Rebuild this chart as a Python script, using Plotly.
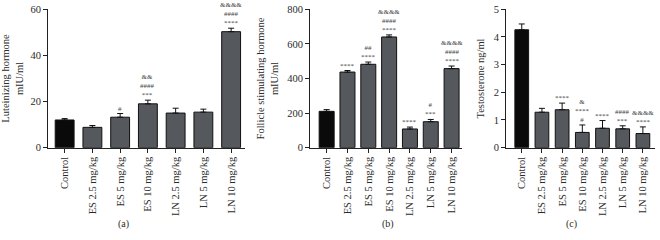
import plotly.graph_objects as go

categories = ["Control", "ES 2.5 mg/kg", "ES 5 mg/kg", "ES 10 mg/kg",
              "LN 2.5 mg/kg", "LN 5 mg/kg", "LN 10 mg/kg"]

lh_values = [12.0, 8.8, 13.2, 19.0, 15.0, 15.4, 50.3]
lh_errors = [0.6, 0.8, 1.6, 1.6, 2.1, 1.3, 1.5]
lh_marks = ["", "", "#", "&&<br>####<br>***", "", "", "&&&&<br>####<br>****"]

fsh_values = [210, 437, 482, 640, 108, 150, 457]
fsh_errors = [10, 9, 13, 12, 11, 13, 15]
fsh_marks = ["", "****", "##<br>****", "&&&&<br>####<br>****", "****", "#<br>***",
             "&&&&<br>####<br>****"]

t_values = [4.26, 1.28, 1.37, 0.55, 0.70, 0.68, 0.51]
t_errors = [0.21, 0.14, 0.24, 0.27, 0.28, 0.11, 0.24]
t_marks = ["", "", "****", "&<br>****<br>#", "****", "####<br>***", "&&&&<br>****"]

y_titles = ["Luteinizing hormone<br>mIU/ml", "Follicle stimulating hormone<br>mIU/ml",
            "Testosterone ng/ml"]
panel_labels = ["(a)", "(b)", "(c)"]
y_ticks = [[0, 20, 40, 60], [0, 200, 400, 600, 800], [0, 1, 2, 3, 4, 5]]

W, H = 660, 240
FONT = "Liberation Serif"
BLACK_BAR = "#0a0a0a"
GREY_BAR = "#55585d"
TXT = "#2a2a2a"

# pixel geometry of each panel
x_px = [(48, 245), (310, 462), (506, 655)]
x_ranges = [[-0.6, 6.5], [-0.8, 6.5], [-0.78, 6.6]]
bar_w = [0.68, 0.72, 0.68]
y_top_px, y_bot_px = 4.5, 149.5
label_x_px = [123, 388, 571]

datasets = [(lh_values, lh_errors, lh_marks),
            (fsh_values, fsh_errors, fsh_marks),
            (t_values, t_errors, t_marks)]

fig = go.Figure()
annotations = []
for i, (vals, errs, marks) in enumerate(datasets):
    xa = "x" if i == 0 else f"x{i+1}"
    ya = "y" if i == 0 else f"y{i+1}"
    colors = [BLACK_BAR] + [GREY_BAR] * (len(categories) - 1)
    fig.add_trace(go.Bar(
        x=categories, y=vals, xaxis=xa, yaxis=ya,
        width=bar_w[i],
        marker=dict(color=colors, line=dict(color="#111111", width=1)),
        error_y=dict(type="data", array=errs, arrayminus=[0] * len(errs),
                     symmetric=False, color="#111111", thickness=1, width=3),
        showlegend=False, hoverinfo="x+y",
    ))
    for c, v, e, m in zip(categories, vals, errs, marks):
        if m:
            annotations.append(dict(
                x=c, y=v + e, xref=xa, yref=ya, text=m, showarrow=False,
                xanchor="center", yanchor="bottom", yshift=0, borderpad=0,
                font=dict(family=FONT, size=7, color="#444444"),
                align="center",
            ))
    annotations.append(dict(
        x=label_x_px[i] / W, y=1 - 230 / H, xref="paper", yref="paper",
        xanchor="center", yanchor="middle",
        text=panel_labels[i], showarrow=False,
        font=dict(family=FONT, size=10, color=TXT),
    ))

layout = dict(
    width=W, height=H, margin=dict(l=0, r=0, t=0, b=0),
    plot_bgcolor="white", paper_bgcolor="white",
    font=dict(family=FONT, size=10, color=TXT),
    annotations=annotations,
)
for i in range(3):
    xk = "xaxis" if i == 0 else f"xaxis{i+1}"
    yk = "yaxis" if i == 0 else f"yaxis{i+1}"
    xn = "x" if i == 0 else f"x{i+1}"
    yn = "y" if i == 0 else f"y{i+1}"
    layout[xk] = dict(
        domain=[x_px[i][0] / W, x_px[i][1] / W], anchor=yn,
        range=x_ranges[i], type="category",
        showline=True, linecolor="#222222", linewidth=1,
        ticks="outside", ticklen=4, tickcolor="#222222",
        tickangle=-90, tickfont=dict(family=FONT, size=10.5, color=TXT),
        showgrid=False, zeroline=False,
    )
    layout[yk] = dict(
        domain=[1 - y_bot_px / H, 1 - y_top_px / H], anchor=xn,
        range=[y_ticks[i][0], y_ticks[i][-1]],
        tickmode="array", tickvals=y_ticks[i], ticklabeloverflow="allow",
        showline=True, linecolor="#222222", linewidth=1,
        ticks="outside", ticklen=4, tickcolor="#222222",
        tickfont=dict(family=FONT, size=10.5, color=TXT),
        showgrid=False, zeroline=False,
        title=dict(text=y_titles[i], font=dict(family=FONT, size=10.5, color=TXT),
                   standoff=6),
    )

fig.update_layout(**layout)
fig.write_html(
    "out.html",
    config={"displayModeBar": False},
    post_script="document.body.style.margin='0';document.body.style.overflow='hidden';",
)
